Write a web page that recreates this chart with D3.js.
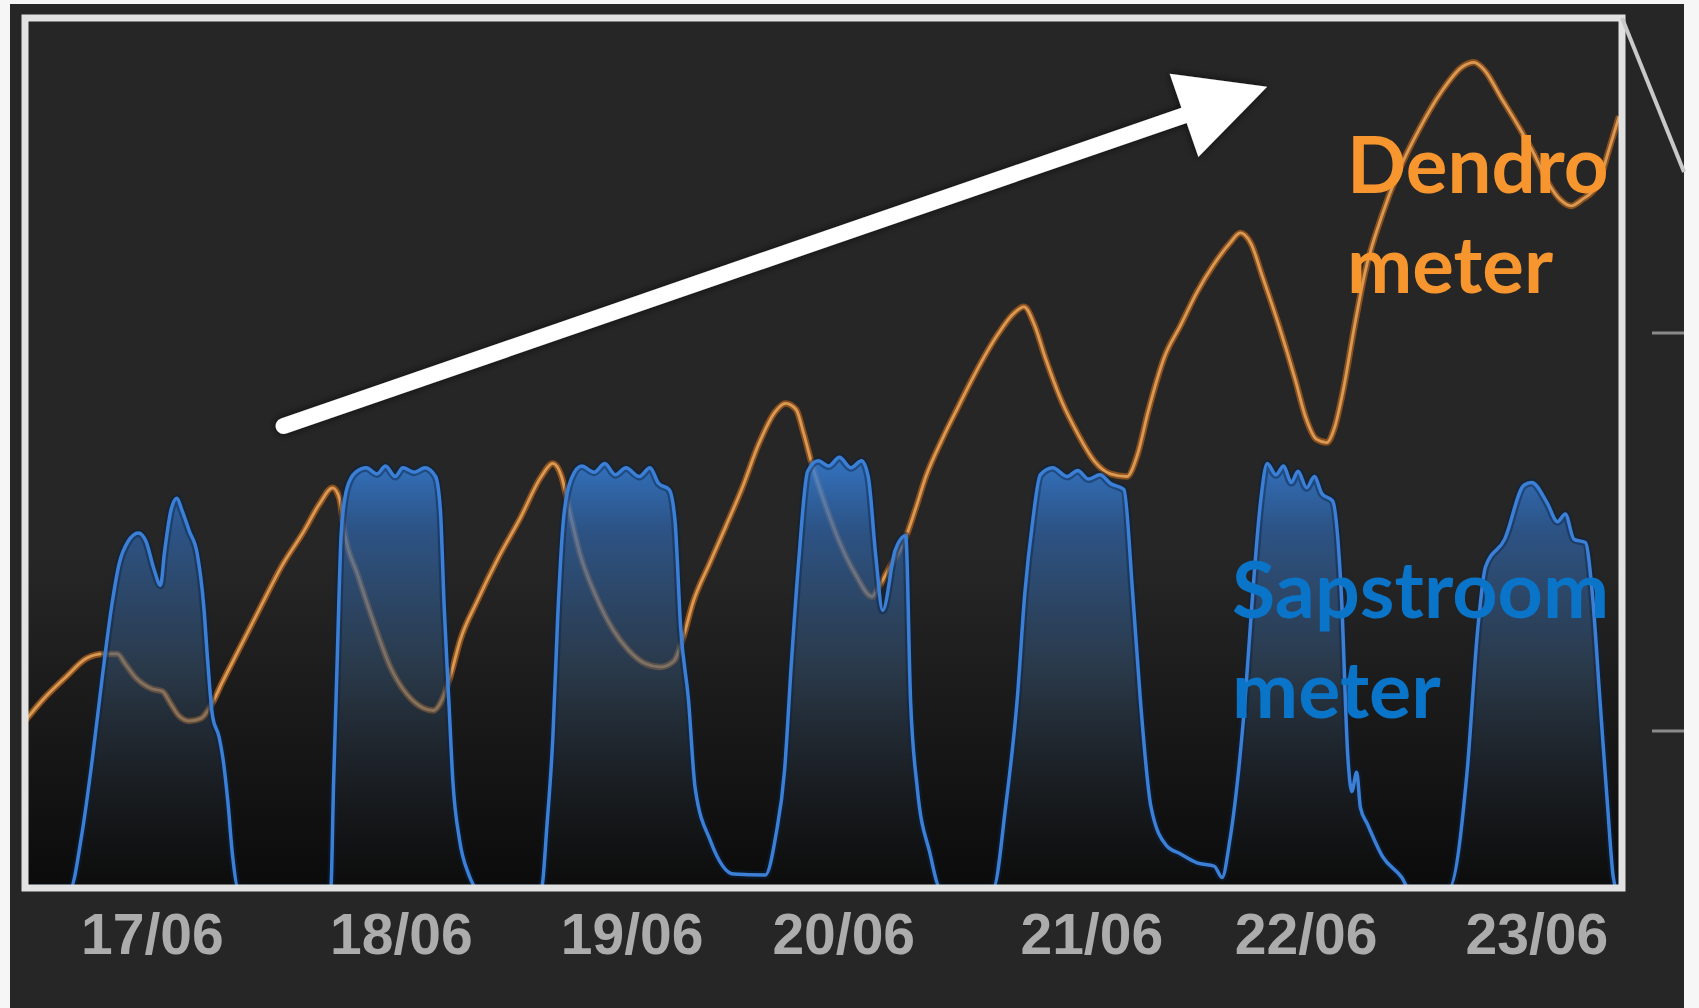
<!DOCTYPE html>
<html lang="nl">
<head>
<meta charset="UTF-8">
<title>Dendrometer en sapstroommeter</title>
<script src="https://cdn.jsdelivr.net/npm/d3@7"></script>
<style>
  html, body { margin: 0; padding: 0; background: #f6f6f6; }
  svg { display: block; }
</style>
</head>
<body>
<svg id="chart" width="1699" height="1008"></svg>
<script>
// tijd in uren vanaf begin van de grafiek, waarden relatief (0-100)
const dendroHours = [0, 1.9, 4.2, 6.4, 8.1, 9.6, 10.4, 11.5, 13.2, 14.3,
  15.2, 16.0, 17.1, 18.3, 19.4, 20.5, 22.2, 24.5, 26.7, 29.0,
  30.6, 32.0, 32.7, 33.2, 34.6, 36.3, 38.0, 39.7, 41.4, 42.5,
  43.4, 44.2, 45.3, 47.0, 49.2, 51.5, 53.7, 54.9, 55.8, 56.6,
  57.7, 59.4, 61.1, 62.8, 64.5, 66.1, 67.5, 68.4, 69.5, 71.2,
  72.9, 74.6, 76.3, 78.0, 79.1, 80.2, 81.0, 81.9, 83.0, 84.7,
  86.4, 88.1, 88.9, 90.0, 91.5, 92.6, 93.7, 95.4, 97.1, 98.8,
  101.1, 102.8, 103.9, 105.0, 106.1, 107.8, 109.5, 111.2, 112.9, 114.6,
  115.7, 116.8, 118.5, 120.2, 121.9, 123.6, 125.3, 126.4, 127.5, 128.7,
  130.4, 132.1, 133.2, 134.3, 135.4, 136.2, 137.1, 138.3, 139.4, 141.1,
  142.8, 145.0, 147.3, 149.5, 150.7, 151.8, 153.5, 155.2, 156.8, 158.5,
  159.7, 160.8, 161.9, 163.6, 164.7, 165.8]
const dendroValues = [19.2, 21.7, 24.2, 26.4, 26.9, 26.9, 25.8, 24.2, 22.9, 22.6,
  21.1, 19.8, 19.2, 19.5, 21.1, 23.6, 27.3, 32.3, 37.0, 41.0,
  44.1, 46.0, 44.8, 41.0, 36.0, 30.4, 25.4, 22.3, 20.7, 20.4,
  21.7, 24.2, 28.6, 32.9, 37.9, 42.5, 47.3, 48.8, 47.3, 43.5,
  38.5, 33.5, 29.8, 27.3, 25.8, 25.4, 26.1, 28.6, 32.9, 37.3,
  41.6, 46.0, 51.0, 54.7, 55.7, 55.0, 52.2, 48.5, 44.8, 39.8,
  36.0, 33.5, 34.8, 37.0, 40.0, 43.5, 47.3, 51.6, 55.4, 59.1,
  63.5, 66.0, 66.8, 64.7, 61.0, 56.0, 52.2, 49.1, 47.6, 47.3,
  49.8, 54.7, 61.0, 64.7, 68.5, 71.6, 74.1, 75.3, 74.1, 70.3,
  64.7, 58.5, 54.1, 51.6, 51.2, 52.9, 57.2, 64.7, 70.9, 77.2,
  82.2, 87.2, 91.5, 94.4, 94.9, 94.0, 90.9, 87.8, 84.7, 80.9,
  79.1, 78.4, 79.1, 80.9, 84.7, 88.7]

const sapHours = [
  0, 4.7, 5.9, 7.0, 8.1, 9.0, 9.8, 10.7, 11.8, 12.6, 13.4, 14.1, 14.5, 15.2, 15.8, 16.3, 17.1, 17.9, 18.6, 19.0, 19.5, 20.2, 20.6, 21.1, 21.6, 22.2,
  31.8, 32.1, 32.5, 32.9, 33.5, 34.4, 35.5, 36.6, 37.5, 38.5, 39.3, 40.5, 41.6, 42.7, 43.2, 43.6, 44.1, 44.5, 45.2, 46.1, 47.0,
  53.7, 54.3, 54.9, 55.4, 56.0, 56.8, 57.9, 59.2, 60.3, 61.4, 62.5, 63.9, 65.0, 65.9, 67.0, 67.6, 68.2, 69.0, 69.7, 71.3, 73.7, 77.0, 78.1, 79.0, 79.7, 80.5, 81.4,
  82.5, 83.6, 84.7, 85.9, 87.0, 87.7, 88.5, 89.2, 90.5, 91.6, 92.1, 92.8, 94.1, 95.2,
  100.7, 102.0, 103.2, 104.0, 104.8, 105.6, 106.9, 108.4, 109.5, 110.6, 111.8, 112.9, 114.3, 115.2, 116.0, 117.1, 118.7, 120.2, 121.9, 123.7, 124.5,
  125.3, 126.9, 127.7, 128.5, 129.2, 130.1, 130.9, 131.7, 132.4, 133.3, 134.1, 134.9, 136.0, 136.9, 137.6, 138.0, 138.5, 138.9, 139.6, 141.2, 143.2, 143.9,
  148.1, 150.0, 151.1, 151.9, 153.9, 155.9, 156.7, 158.3, 159.4, 160.2, 161.1, 162.3, 163.0, 163.8, 164.6, 165.2, 165.5, 166.1]
const sapValues = [
  0, 0, 6.1, 14.8, 24.8, 32.3, 37.3, 39.8, 40.8, 39.8, 36.7, 34.8, 38.5, 43.5, 44.8, 43.5, 41.0, 38.5, 32.3, 26.1, 19.8, 17.3, 14.8, 9.9, 3.6, 0,
  0, 12.3, 27.3, 41.0, 46.0, 47.8, 48.3, 47.6, 48.5, 47.3, 48.3, 47.8, 48.3, 47.3, 43.5, 32.3, 21.1, 12.3, 5.5, 1.7, 0,
  0, 7.4, 17.3, 31.0, 42.3, 47.0, 48.5, 47.8, 48.8, 47.5, 48.3, 47.3, 48.3, 46.5, 45.8, 42.3, 29.8, 21.7, 11.5, 5.4, 1.6, 1.5, 6.1, 13.5, 25.7, 38.0, 47.9,
  49.1, 48.5, 49.5, 48.3, 49.1, 47.3, 38.0, 31.9, 38.8, 40.5, 21.7, 11.5, 4.1, 0,
  0, 9.4, 21.7, 34.0, 42.1, 47.5, 48.3, 47.3, 48.0, 47.0, 47.5, 46.5, 45.8, 34.0, 21.7, 9.4, 4.9, 3.9, 2.9, 2.5, 1.2,
  5.4, 21.7, 34.0, 44.3, 48.8, 47.5, 48.5, 46.6, 47.9, 46.0, 47.3, 45.3, 44.5, 34.0, 14.8, 11.1, 13.3, 9.2, 7.4, 3.6, 1.2, 0,
  0, 13.5, 29.8, 36.9, 40.1, 46.3, 46.6, 44.3, 42.1, 43.0, 40.1, 39.7, 34.0, 21.7, 9.4, 1.2, 0, 0]

const tickHours = [13.2, 39.1, 63.1, 85.1, 110.9, 133.2, 157.2]
const tickLabels = ['17/06', '18/06', '19/06', '20/06', '21/06', '22/06', '23/06']

const dendroLabel = ['Dendro', 'meter']
const sapLabel = ['Sapstroom', 'meter']

const dendro = d3.zip(dendroHours, dendroValues)
const sap = d3.zip(sapHours, sapValues)

const svg = d3.select('#chart')
const frame = { left: 25, top: 18, right: 1622, bottom: 888 }

const x = d3.scaleLinear().domain([0, 166.1]).range([frame.left, frame.right])
const y = d3.scaleLinear().domain([0, 100]).range([frame.bottom, frame.top])

const defs = svg.append('defs')

// donker paneel (screenshot achtergrond)
svg.append('rect')
  .attr('x', 10).attr('y', 4)
  .attr('width', 1674).attr('height', 1004)
  .attr('fill', '#262626')

// achtergrond van plot wordt naar onder donkerder
const bgGrad = defs.append('linearGradient')
  .attr('id', 'bgGrad').attr('gradientUnits', 'userSpaceOnUse')
  .attr('x1', 0).attr('x2', 0).attr('y1', y(38)).attr('y2', y(0))
bgGrad.append('stop').attr('offset', 0).attr('stop-color', '#262626')
bgGrad.append('stop').attr('offset', 1).attr('stop-color', '#0b0b0b')

svg.append('rect')
  .attr('x', frame.left).attr('y', frame.top)
  .attr('width', frame.right - frame.left).attr('height', frame.bottom - frame.top)
  .attr('fill', 'url(#bgGrad)')

// vulling onder sapstroom
const areaGrad = defs.append('linearGradient')
  .attr('id', 'areaGrad').attr('gradientUnits', 'userSpaceOnUse')
  .attr('x1', 0).attr('x2', 0).attr('y1', y(50)).attr('y2', y(0))
areaGrad.append('stop').attr('offset', 0).attr('stop-color', '#3684e2').attr('stop-opacity', 0.85)
areaGrad.append('stop').attr('offset', 0.18).attr('stop-color', '#2f66ad').attr('stop-opacity', 0.7)
areaGrad.append('stop').attr('offset', 0.5).attr('stop-color', '#34506e').attr('stop-opacity', 0.55)
areaGrad.append('stop').attr('offset', 1).attr('stop-color', '#1a1a1a').attr('stop-opacity', 0.1)

defs.append('clipPath').attr('id', 'plotClip')
  .append('rect')
  .attr('x', frame.left).attr('y', frame.top)
  .attr('width', frame.right - frame.left).attr('height', frame.bottom - frame.top)

const shadow = defs.append('filter').attr('id', 'shadow')
  .attr('x', '-10%').attr('y', '-10%').attr('width', '120%').attr('height', '120%')
shadow.append('feDropShadow')
  .attr('dx', 0).attr('dy', 0).attr('stdDeviation', 4)
  .attr('flood-color', '#000').attr('flood-opacity', 0.7)

const soft = defs.append('filter').attr('id', 'soft')
soft.append('feGaussianBlur').attr('stdDeviation', 0.6)

const plot = svg.append('g').attr('clip-path', 'url(#plotClip)')

const line = d3.line()
  .x(d => x(d[0])).y(d => y(d[1]))
  .curve(d3.curveMonotoneX)

const area = d3.area()
  .x(d => x(d[0])).y0(y(0)).y1(d => y(d[1]))
  .curve(d3.curveMonotoneX)

// dendrometer lijn
plot.append('path').datum(dendro)
  .attr('d', line).attr('fill', 'none')
  .attr('stroke', '#8a4f1c').attr('stroke-width', 6.5)
  .attr('filter', 'url(#soft)')
plot.append('path').datum(dendro)
  .attr('d', line).attr('fill', 'none')
  .attr('stroke', '#d99a55').attr('stroke-width', 2.8)
  .attr('filter', 'url(#soft)')

// sapstroom vlak + lijn
plot.append('path').datum(sap)
  .attr('d', area).attr('fill', 'url(#areaGrad)')
plot.append('path').datum(sap)
  .attr('d', line).attr('fill', 'none')
  .attr('stroke', '#0c2444').attr('stroke-width', 8).attr('stroke-opacity', 0.45)
plot.append('path').datum(sap)
  .attr('d', line).attr('fill', 'none')
  .attr('stroke', '#3a7fd6').attr('stroke-width', 3.5)
  .attr('filter', 'url(#soft)')

// kader
svg.append('rect')
  .attr('x', frame.left).attr('y', frame.top)
  .attr('width', frame.right - frame.left).attr('height', frame.bottom - frame.top)
  .attr('fill', 'none').attr('stroke', '#e2e2e2').attr('stroke-width', 7)

// stukjes van de volgende grafiek rechts
svg.append('line')
  .attr('x1', frame.right).attr('y1', frame.top)
  .attr('x2', 1684).attr('y2', 172)
  .attr('stroke', '#c9c9c9').attr('stroke-width', 4)
svg.selectAll('.stub').data([333, 731]).join('line')
  .attr('class', 'stub')
  .attr('x1', 1652).attr('x2', 1684)
  .attr('y1', d => d).attr('y2', d => d)
  .attr('stroke', '#8a8a8a').attr('stroke-width', 3)

// x-as labels
const xAxis = d3.axisBottom(x)
  .tickValues(tickHours)
  .tickFormat((d, i) => tickLabels[i])
  .tickSize(0).tickPadding(26)
const gx = svg.append('g')
  .attr('transform', `translate(0,${frame.bottom})`)
  .call(xAxis)
gx.select('.domain').remove()
gx.selectAll('text')
  .attr('fill', '#acacac')
  .attr('font-family', '"Liberation Sans", Arial, sans-serif')
  .attr('font-weight', 'bold')
  .attr('font-size', 57)
  .attr('filter', 'url(#soft)')

// trendpijl
const arrowFrom = [26.9, 53.1]
const arrowTo = [129.2, 92.1]
const p0 = [x(arrowFrom[0]), y(arrowFrom[1])]
const p1 = [x(arrowTo[0]), y(arrowTo[1])]
const len = Math.hypot(p1[0] - p0[0], p1[1] - p0[1])
const ux = (p1[0] - p0[0]) / len, uy = (p1[1] - p0[1]) / len
const headLen = 88, headHalf = 44
const base = [p1[0] - ux * headLen, p1[1] - uy * headLen]
const arrow = svg.append('g').attr('filter', 'url(#shadow)')
arrow.append('line')
  .attr('x1', p0[0]).attr('y1', p0[1])
  .attr('x2', base[0] + ux * 10).attr('y2', base[1] + uy * 10)
  .attr('stroke', '#ffffff').attr('stroke-width', 16).attr('stroke-linecap', 'round')
arrow.append('polygon')
  .attr('points', [
    p1,
    [base[0] - uy * headHalf, base[1] + ux * headHalf],
    [base[0] + uy * headHalf, base[1] - ux * headHalf]
  ].map(p => p.join(',')).join(' '))
  .attr('fill', '#ffffff')

// labels
const labelFont = 'Lato, "Open Sans", sans-serif'
svg.append('text')
  .attr('x', 1347).attr('y', 193)
  .attr('font-family', labelFont).attr('font-weight', 'bold').attr('font-size', 78)
  .attr('fill', '#f7962f')
  .selectAll('tspan').data(dendroLabel).join('tspan')
  .attr('x', 1347).attr('dy', (d, i) => i ? 100 : 0)
  .text(d => d)

svg.append('text')
  .attr('x', 1232).attr('y', 618)
  .attr('font-family', labelFont).attr('font-weight', 'bold').attr('font-size', 79)
  .attr('fill', '#0a74c8')
  .selectAll('tspan').data(sapLabel).join('tspan')
  .attr('x', 1232).attr('dy', (d, i) => i ? 100 : 0)
  .text(d => d)
</script>
</body>
</html>
